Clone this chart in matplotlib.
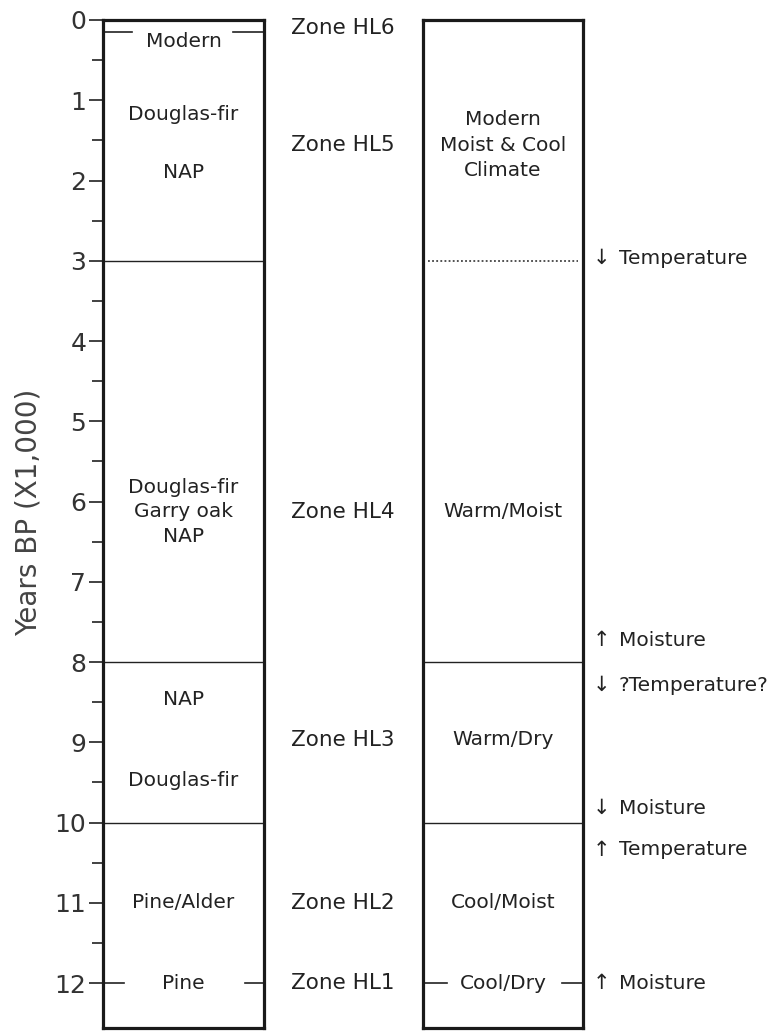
import matplotlib
matplotlib.use("Agg")
import matplotlib.pyplot as plt
import matplotlib.transforms as mtransforms
import numpy as np

# zone boundaries (thousand years BP)
boundaries = [3, 8, 10]
modern_line = 0.15
pine_line = 12

# left box: pollen assemblages (text, year)
pollen_labels = ["Modern", "Douglas-fir", "NAP", "Douglas-fir", "Garry oak", "NAP",
                 "NAP", "Douglas-fir", "Pine/Alder", "Pine"]
pollen_years = [0.27, 1.18, 1.9, 5.82, 6.13, 6.44, 8.47, 9.47, 11.0, 12.0]

# zones in the middle
zone_labels = ["Zone HL6", "Zone HL5", "Zone HL4", "Zone HL3", "Zone HL2", "Zone HL1"]
zone_years = [0.1, 1.56, 6.13, 8.97, 11.0, 12.0]

# right box: climate
climate_labels = ["Modern", "Moist & Cool", "Climate", "Warm/Moist", "Warm/Dry",
                  "Cool/Moist", "Cool/Dry"]
climate_years = [1.24, 1.56, 1.87, 6.13, 8.97, 11.0, 12.0]

# changes on the right
change_labels = ["Temperature", "Moisture", "?Temperature?", "Moisture", "Temperature", "Moisture"]
change_dirs = ["down", "up", "down", "down", "up", "up"]
change_years = [2.97, 7.73, 8.29, 9.82, 10.34, 12.0]

W, H = 778, 1031
fig = plt.figure(figsize=(W / 100, H / 100), dpi=100)

y_top, y_bot = 0.0, 12.56
ax_bottom = 3 / H
ax_height = (1028 - 20) / H

ax1 = fig.add_axes([103 / W, ax_bottom, 161 / W, ax_height])
ax2 = fig.add_axes([423 / W, ax_bottom, 160 / W, ax_height], sharey=ax1)

for ax in (ax1, ax2):
    ax.set_xlim(0, 1)
    ax.set_ylim(y_bot, y_top)
    for s in ax.spines.values():
        s.set_linewidth(2.3)
        s.set_color("#1a1a1a")
    ax.set_xticks([])

ax1.set_yticks(np.arange(0, 13))
ax1.set_yticks(np.arange(0.5, 12, 1), minor=True)
ax1.tick_params(axis="y", which="major", direction="out", length=10, width=1.3,
                labelsize=18, pad=2, colors="#333333")
ax1.tick_params(axis="y", which="minor", direction="out", length=8, width=1.3,
                colors="#333333")
ax1.set_ylabel("Years BP (X1,000)", fontsize=20, color="#444444")
ax1.yaxis.set_label_coords((43 - 103) / 161, 1 - (512 - 20) / (1028 - 20))
ax2.tick_params(axis="y", which="both", left=False, labelleft=False)

txt = dict(fontsize=14.5, color="#222222", ha="center", va="center")

# horizontal boundaries
for b in boundaries:
    ax1.axhline(b, color="#222222", lw=1.0)
ax2.axhline(boundaries[1], color="#222222", lw=1.0)
ax2.axhline(boundaries[2], color="#222222", lw=1.0)
ax2.plot([0.03, 0.97], [boundaries[0], boundaries[0]], color="#222222", lw=1.1,
         linestyle=(0, (1.2, 1.5)))

# short segments at Modern / Pine / Cool/Dry
ax1.plot([0, 0.18], [modern_line, modern_line], color="#222222", lw=1.2)
ax1.plot([0.81, 1], [modern_line, modern_line], color="#222222", lw=1.2)
ax1.plot([0, 0.13], [pine_line, pine_line], color="#222222", lw=1.2)
ax1.plot([0.88, 1], [pine_line, pine_line], color="#222222", lw=1.2)
ax2.plot([0, 0.15], [pine_line, pine_line], color="#222222", lw=1.2)
ax2.plot([0.87, 1], [pine_line, pine_line], color="#222222", lw=1.2)

for lab, yr in zip(pollen_labels, pollen_years):
    ax1.text(0.5, yr, lab, **txt)

for lab, yr in zip(climate_labels, climate_years):
    ax2.text(0.5, yr, lab, **txt)

trans = mtransforms.blended_transform_factory(fig.transFigure, ax1.transData)
for lab, yr in zip(zone_labels, zone_years):
    ax1.text(343 / W, yr, lab, transform=trans, clip_on=False,
             **dict(txt, fontsize=15.5))

for lab, d, yr in zip(change_labels, change_dirs, change_years):
    arrow = "\u2193" if d == "down" else "\u2191"
    ax1.text(601 / W, yr, arrow, transform=trans, fontsize=15, color="#222222",
             ha="center", va="center", clip_on=False)
    ax1.text(619 / W, yr, lab, transform=trans, fontsize=14.5, color="#222222",
             ha="left", va="center", clip_on=False)

fig.savefig("out.png", dpi=100)
